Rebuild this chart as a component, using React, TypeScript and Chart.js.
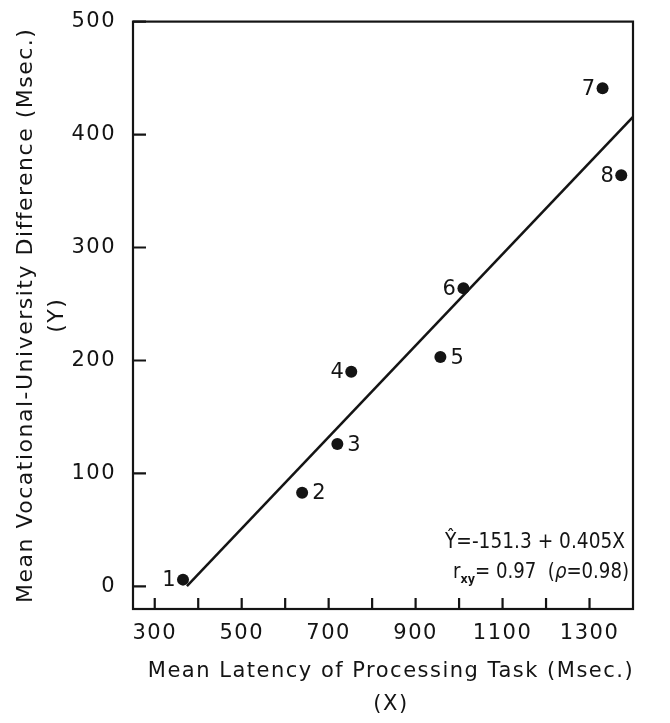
import { useEffect, useRef } from 'react';
import { Chart, registerables } from 'chart.js';

Chart.register(...registerables);

// ---- data ----
const pointIds = ['1', '2', '3', '4', '5', '6', '7', '8'];
const latencyMs = [365, 639, 720, 752, 957, 1010, 1330, 1373];
const differenceMs = [6, 83, 126, 190, 203, 264, 441, 364];
const labelSides = ['left', 'right', 'right', 'left', 'right', 'left', 'left', 'left'];

const xTickValues = [300, 400, 500, 600, 700, 800, 900, 1000, 1100, 1200, 1300];
const xTickLabels = [300, 500, 700, 900, 1100, 1300];
const yTickValues = [0, 100, 200, 300, 400, 500];

const regressionIntercept = -151.3;
const regressionSlope = 0.405;
const regressionXRange = [374, 1400];

const equationLine = 'Ŷ=-151.3 + 0.405X';
const corrValue = '0.97';
const rhoValue = '0.98';

const xTitle = ['Mean Latency of Processing Task (Msec.)', '(X)'];
const yTitle = ['Mean Vocational-University Difference (Msec.)', '(Y)'];

// ---- style ----
const INK = '#141414';
const FONT = '"DejaVu Sans", sans-serif';
const SPACING = '1.5px';

const annotate = {
  id: 'annotate',
  beforeDraw(chart: any) {
    chart.ctx.letterSpacing = SPACING;
  },
  afterDraw(chart: any) {
    const { ctx, chartArea: a, scales } = chart;
    const xs = scales.x;
    const ys = scales.y;
    ctx.save();
    ctx.letterSpacing = SPACING;
    ctx.strokeStyle = INK;
    ctx.lineWidth = 2.2;
    ctx.strokeRect(a.left, a.top, a.right - a.left, a.bottom - a.top);
    ctx.beginPath();
    xTickValues.forEach((v) => {
      const px = xs.getPixelForValue(v);
      ctx.moveTo(px, a.bottom);
      ctx.lineTo(px, a.bottom - 11);
    });
    yTickValues.forEach((v) => {
      const py = ys.getPixelForValue(v);
      ctx.moveTo(a.left, py);
      ctx.lineTo(a.left + 13, py);
    });
    ctx.stroke();

    ctx.fillStyle = INK;

    // x-axis title
    ctx.font = `21px ${FONT}`;
    ctx.textAlign = 'center';
    ctx.textBaseline = 'middle';
    const cx = (a.left + a.right) / 2 + 8;
    ctx.fillText(xTitle[0], cx, a.bottom + 63);
    ctx.fillText(xTitle[1], cx, a.bottom + 96);

    // point labels
    const meta = chart.getDatasetMeta(0);
    meta.data.forEach((el: any, i: number) => {
      const left = labelSides[i] === 'left';
      ctx.textAlign = left ? 'right' : 'left';
      ctx.fillText(pointIds[i], el.x + (left ? -6 : 10), el.y + 1);
    });

    // equation (fitted into the width it takes in the figure)
    ctx.letterSpacing = '0px';
    ctx.textBaseline = 'alphabetic';
    ctx.textAlign = 'left';
    ctx.font = `21px ${FONT}`;
    const w1 = ctx.measureText(equationLine).width;
    const target1 = 180;
    ctx.save();
    ctx.translate(a.right - 8 - target1, a.bottom - 61);
    ctx.scale(target1 / w1, 1);
    ctx.fillText(equationLine, 0, 0);
    ctx.restore();

    const pieces = [
      { t: 'r', f: `21px ${FONT}`, dy: 0 },
      { t: 'xy', f: `bold 13px ${FONT}`, dy: 5 },
      { t: '= ' + corrValue + '  (', f: `21px ${FONT}`, dy: 0 },
      { t: 'ρ', f: `italic 21px ${FONT}`, dy: 0 },
      { t: '=' + rhoValue + ')', f: `21px ${FONT}`, dy: 0 },
    ];
    let total = 0;
    pieces.forEach((p) => {
      ctx.font = p.f;
      total += ctx.measureText(p.t).width;
    });
    const target2 = 176;
    ctx.save();
    ctx.translate(a.right - 4 - target2, a.bottom - 31);
    ctx.scale(target2 / total, 1);
    let x = 0;
    pieces.forEach((p) => {
      ctx.font = p.f;
      ctx.fillText(p.t, x, p.dy);
      x += ctx.measureText(p.t).width;
    });
    ctx.restore();
    ctx.restore();
  },
};

export default function App() {
  const ref = useRef<HTMLCanvasElement>(null);
  useEffect(() => {
    const regression = regressionXRange.map((x) => ({
      x,
      y: regressionIntercept + regressionSlope * x,
    }));
    const chart = new Chart(ref.current as HTMLCanvasElement, {
      type: 'scatter',
      data: {
        datasets: [
          {
            data: latencyMs.map((x, i) => ({ x, y: differenceMs[i] })),
            backgroundColor: INK,
            borderWidth: 0,
            pointRadius: 6,
          },
          {
            data: regression,
            showLine: true,
            borderColor: INK,
            borderWidth: 2.5,
            pointRadius: 0,
          } as any,
        ],
      },
      options: {
        responsive: false,
        animation: false,
        devicePixelRatio: 1,
        layout: { padding: { top: 21, right: 37, left: 0, bottom: 0 } },
        plugins: { legend: { display: false }, tooltip: { enabled: false } },
        scales: {
          x: {
            type: 'linear',
            min: 250,
            max: 1400,
            afterBuildTicks: (s: any) => {
              s.ticks = xTickLabels.map((v) => ({ value: v }));
            },
            afterFit: (s: any) => {
              s.height = 114;
            },
            grid: { display: false },
            border: { display: false },
            ticks: {
              color: INK,
              font: { family: FONT, size: 21 },
              padding: 4,
              maxRotation: 0,
              autoSkip: false,
              callback: (v: any) => String(v),
            },
            title: { display: false },
          },
          y: {
            type: 'linear',
            min: -20,
            max: 500,
            afterBuildTicks: (s: any) => {
              s.ticks = yTickValues.map((v) => ({ value: v }));
            },
            afterFit: (s: any) => {
              s.width = 133;
            },
            grid: { display: false },
            border: { display: false },
            ticks: {
              color: INK,
              font: { family: FONT, size: 21 },
              padding: 9,
              autoSkip: false,
              callback: (v: any) => String(v),
            },
            title: {
              display: true,
              text: yTitle,
              color: INK,
              font: { family: FONT, size: 22, lineHeight: 1.4 },
              padding: { top: 11, bottom: 0 },
            },
          },
        },
      },
      plugins: [annotate],
    } as any);
    return () => chart.destroy();
  }, []);
  return (
    <div style={{ position: 'fixed', left: 0, top: 0, width: 670, height: 723 }}>
      <canvas ref={ref} width={670} height={723} style={{ display: 'block' }} />
    </div>
  );
}
